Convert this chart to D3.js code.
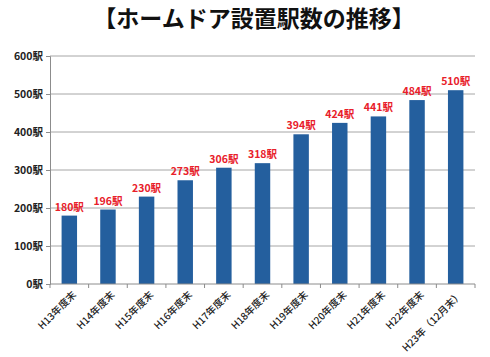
<!DOCTYPE html>
<html><head><meta charset="utf-8">
<script src="https://cdn.jsdelivr.net/npm/d3@7"></script>
<style>body{margin:0;background:#fff;}svg{display:block;}</style>
</head><body>
<script>
const categories = ["H13年度末","H14年度末","H15年度末","H16年度末","H17年度末","H18年度末","H19年度末","H20年度末","H21年度末","H22年度末","H23年（12月末）"];
const values = [180,196,230,273,306,318,394,424,441,484,510];
const yTicks = [0,100,200,300,400,500,600];
const title = "【ホームドア設置駅数の推移】";
const unit = "駅";

const W = 490, H = 357;
const svg = d3.select("body").append("svg").attr("width", W).attr("height", H);
const font = "'Noto Sans CJK JP', sans-serif";

svg.append("text").attr("x", 254).attr("y", 27).attr("text-anchor","middle")
  .attr("font-family", font).attr("font-weight","bold").attr("font-size", 23)
  .attr("fill","#111").text(title);

const x = d3.scaleBand().domain(categories).range([50, 475]).paddingInner(0.6).paddingOuter(0.3);
const y = d3.scaleLinear().domain([0, 600]).range([284, 56]);

// gridlines
svg.append("g").selectAll("line").data(yTicks.filter(d=>d>0)).join("line")
  .attr("x1", 50).attr("x2", 475).attr("y1", d=>y(d)).attr("y2", d=>y(d))
  .attr("stroke", "#a6a6a6").attr("stroke-width", 1);

// y axis
const yAxis = svg.append("g").attr("transform","translate(50,0)")
  .call(d3.axisLeft(y).tickValues(yTicks).tickFormat(d=>d+unit).tickSize(4).tickPadding(3));
yAxis.select(".domain").attr("stroke","#8c8c8c");
yAxis.selectAll(".tick line").attr("stroke","#8c8c8c");
yAxis.selectAll("text").attr("font-family", font).attr("font-size", 10.5).attr("font-weight","bold").attr("fill","#222");

// bars
svg.append("g").selectAll("rect").data(values).join("rect")
  .attr("x", (d,i)=>x(categories[i])).attr("width", x.bandwidth())
  .attr("y", d=>y(d)).attr("height", d=>y(0)-y(d))
  .attr("fill", "#245f9e");

// data labels
svg.append("g").selectAll("text").data(values).join("text")
  .attr("x", (d,i)=>x(categories[i]) + x.bandwidth()/2)
  .attr("y", d=>y(d)-5).attr("text-anchor","middle")
  .attr("font-family", font).attr("font-size", 10.5).attr("font-weight","bold")
  .attr("fill", "#e8202a").text(d=>d+unit);

// x axis
const xa = svg.append("g").attr("transform", `translate(0,${y(0)})`);
xa.append("line").attr("x1",50).attr("x2",475).attr("stroke","#8c8c8c");
const bounds = d3.range(categories.length+1).map(i => 50 + i*(425/categories.length));
xa.selectAll("line.tk").data(bounds).join("line").attr("class","tk")
  .attr("x1", d=>d).attr("x2", d=>d).attr("y1",0).attr("y2",4).attr("stroke","#8c8c8c");
xa.selectAll("text").data(categories).join("text")
  .attr("transform", d=>`translate(${x(d)+x.bandwidth()/2+5},${9}) rotate(-45)`)
  .attr("text-anchor","end").attr("dy","0.35em")
  .attr("font-family", font).attr("font-size", 10).attr("font-weight", 500)
  .attr("fill","#222").text(d=>d);
</script>
</body></html>
